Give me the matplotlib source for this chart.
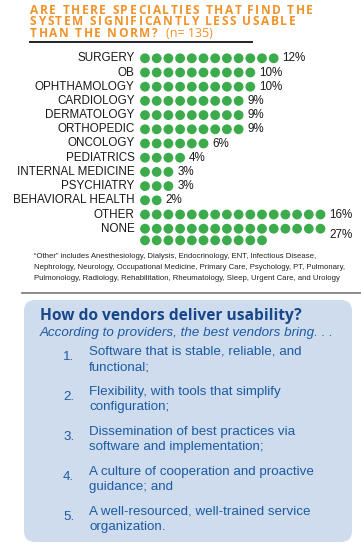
import matplotlib
matplotlib.use("Agg")
import matplotlib.pyplot as plt
from matplotlib.patches import FancyBboxPatch

# data
categories = ["SURGERY", "OB", "OPHTHAMOLOGY", "CARDIOLOGY", "DERMATOLOGY",
              "ORTHOPEDIC", "ONCOLOGY", "PEDIATRICS", "INTERNAL MEDICINE",
              "PSYCHIATRY", "BEHAVIORAL HEALTH", "OTHER", "NONE"]
percents = [12, 10, 10, 9, 9, 9, 6, 4, 3, 3, 2, 16, 27]
dots_per_line = 16

title_lines = ["ARE THERE SPECIALTIES THAT FIND THE",
               "SYSTEM SIGNIFICANTLY LESS USABLE",
               "THAN THE NORM?"]
n_label = "(n= 135)"
footnote = ["\u201cOther\u201d includes Anesthesiology, Dialysis, Endocrinology, ENT, Infectious Disease,",
            "Nephrology, Neurology, Occupational Medicine, Primary Care, Psychology, PT, Pulmonary,",
            "Pulmonology, Radiology, Rehabilitation, Rheumatology, Sleep, Urgent Care, and Urology"]
box_title = "How do vendors deliver usability?"
box_sub = "According to providers, the best vendors bring. . ."
items = [("Software that is stable, reliable, and", "functional;"),
         ("Flexibility, with tools that simplify", "configuration;"),
         ("Dissemination of best practices via", "software and implementation;"),
         ("A culture of cooperation and proactive", "guidance; and"),
         ("A well-resourced, well-trained service", "organization.")]

orange = "#f0922a"
green = "#3cab4b"
blue_txt = "#1d5ba3"
blue_title = "#17478a"
box_fill = "#cedced"

W, H = 361, 548
fig = plt.figure(figsize=(W / 100, H / 100), dpi=100)
ax = fig.add_axes([0, 0, 1, 1])
ax.set_xlim(0, W)
ax.set_ylim(H, 0)
ax.axis("off")
renderer = fig.canvas.get_renderer()


def text_width(s, **kw):
    # width in px, trailing spaces included
    t1 = ax.text(0, 0, s + "H", **kw)
    t2 = ax.text(0, 0, "H", **kw)
    w = t1.get_window_extent(renderer).width - t2.get_window_extent(renderer).width
    t1.remove()
    t2.remove()
    return w


def tracked_text(x, y, s, tracking, **kw):
    for i, ch in enumerate(s):
        if ch == " ":
            continue
        xi = x + text_width(s[:i], **kw) + i * tracking
        ax.text(xi, y, ch, va="center", ha="left", **kw)
    return x + text_width(s, **kw) + (len(s) - 1) * tracking


# title with letter spacing
tkw = dict(color=orange, fontsize=8.6, fontweight="bold", family="Open Sans")
w0 = text_width(title_lines[0], **tkw)
track = (283 - w0) / (len(title_lines[0]) - 1)
end_x = 0
for i, line in enumerate(title_lines):
    end_x = tracked_text(30, 10 + i * 11.7, line, track, **tkw)
ax.text(end_x + 8, 10 + 2 * 11.7, n_label, color=orange, fontsize=9,
        family="Open Sans", va="center", ha="left")
ax.plot([30, 252], [42, 42], color="#222222", lw=1.4)

# dot chart
row_px0, row_step = 58.3, 14.2
top_px, bot_px = 50, 250
x_step, x0_px = 11.7, 145
axd = fig.add_axes([(x0_px - 0.5 * x_step) / W, (H - bot_px) / H,
                    (W - (x0_px - 0.5 * x_step)) / W, (bot_px - top_px) / H])
axd.set_xlim(-0.5, (W - (x0_px - 0.5 * x_step)) / x_step - 0.5)
axd.set_ylim((bot_px - row_px0) / row_step, (top_px - row_px0) / row_step)
axd.axis("off")
axd.patch.set_alpha(0)

wrap_gap = 0.82
for r, (cat, p) in enumerate(zip(categories, percents)):
    xs, ys = [], []
    for k in range(p):
        xs.append(k % dots_per_line)
        ys.append(r + (k // dots_per_line) * wrap_gap)
    axd.scatter(xs, ys, s=50, color=green, edgecolors="none")
    n_lines = (p - 1) // dots_per_line + 1
    last_in_first = min(p, dots_per_line)
    ly = r + (n_lines - 1) * wrap_gap / 2
    axd.text(last_in_first - 1 + 0.75, ly, f"{p}%", fontsize=8.4,
             family="Liberation Sans", va="center", ha="left", color="#1a1a1a")
    ax.text(134.5, row_px0 + r * row_step, cat, fontsize=8.4,
            family="Liberation Sans", va="center", ha="right", color="#1a1a1a")

# footnote
for i, line in enumerate(footnote):
    ax.text(34, 257 + i * 10.5, line, fontsize=5.6, family="Liberation Sans",
            va="center", ha="left", color="#222222")
ax.plot([22, W], [293, 293], color="#777777", lw=1.2)

# blue box
box = FancyBboxPatch((24, 300), 328, 242, boxstyle="round,pad=0,rounding_size=11",
                     facecolor=box_fill, edgecolor="none")
ax.add_patch(box)
ax.text(40, 316, box_title, fontsize=11.2, fontweight="bold", family="Open Sans",
        color=blue_title, va="center", ha="left")
ax.text(40, 333, box_sub, fontsize=9.6, style="italic", family="Liberation Sans",
        color=blue_txt, va="center", ha="left")
for i, (l1, l2) in enumerate(items):
    y = 352 + i * 40
    ax.text(63, y + 5, f"{i + 1}.", fontsize=9.6, family="Liberation Sans",
            color=blue_txt, va="center", ha="left")
    ax.text(89, y, l1, fontsize=9.6, family="Liberation Sans",
            color=blue_txt, va="center", ha="left")
    ax.text(89, y + 15, l2, fontsize=9.6, family="Liberation Sans",
            color=blue_txt, va="center", ha="left")

fig.savefig("out.png", dpi=100)
